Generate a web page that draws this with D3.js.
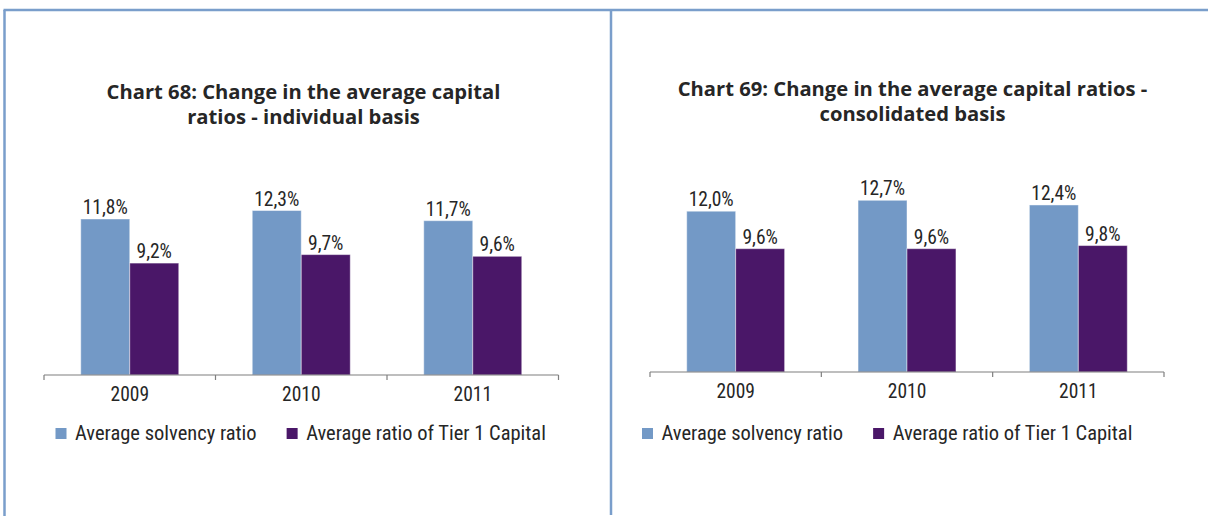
<!DOCTYPE html>
<html><head><meta charset="utf-8">
<script src="https://cdn.jsdelivr.net/npm/d3@7"></script>
<style>
  body { margin: 0; background: #fff; }
  svg { display: block; }
</style></head>
<body><svg id="panel" width="1208" height="516"></svg>
<script>
// Categories and series
const years = ["2009", "2010", "2011"];
const seriesNames = ["Average solvency ratio", "Average ratio of Tier 1 Capital"];

// Chart 68 – individual basis (%)
const individualSolvency = [11.8, 12.3, 11.7];
const individualTier1 = [9.2, 9.7, 9.6];

// Chart 69 – consolidated basis (%)
const consolidatedSolvency = [12.0, 12.7, 12.4];
const consolidatedTier1 = [9.6, 9.6, 9.8];

const titleIndividual = ["Chart 68: Change in the average capital", "ratios - individual basis"];
const titleConsolidated = ["Chart 69: Change in the average capital ratios -", "consolidated basis"];

const colors = ["#7399c6", "#4a1768"];
const frameColor = "#7a9ecb";
const textColor = "#262626";
const labelFont = "'Roboto Condensed', 'DejaVu Sans Condensed', sans-serif";
const titleFont = "'Open Sans', 'Noto Sans', sans-serif";

const locale = d3.formatLocale({ decimal: ",", thousands: ".", grouping: [3], currency: ["", "€"] });
const fmt = v => locale.format(".1f")(v) + "%";

const svg = d3.select("#panel");

// Page frame: top rule plus the left and middle column rules
const frame = svg.append("g").attr("stroke", frameColor).attr("stroke-width", 2.5).attr("fill", "none");
frame.append("line").attr("x1", 3.5).attr("x2", 1208).attr("y1", 10).attr("y2", 10);
frame.append("line").attr("x1", 4.5).attr("x2", 4.5).attr("y1", 10).attr("y2", 516);
frame.append("line").attr("x1", 611).attr("x2", 611).attr("y1", 10).attr("y2", 515);

function drawChart(cfg) {
  const g = svg.append("g");
  const rows = years.map((y, i) => ({ year: y, values: [cfg.series[0][i], cfg.series[1][i]] }));

  const x0 = d3.scaleBand().domain(years).range([cfg.left, cfg.right]).paddingInner(0).paddingOuter(0);
  const x1 = d3.scaleBand().domain([0, 1]).range([0, x0.bandwidth()]).paddingInner(0).paddingOuter(0.75);
  const y = d3.scaleLinear().domain(cfg.yDomain).range([cfg.baseline, cfg.top]);

  // Title, two centred lines
  const title = g.append("text")
    .attr("x", cfg.titleX).attr("y", cfg.titleY)
    .attr("text-anchor", "middle")
    .attr("font-family", titleFont).attr("font-weight", "bold").attr("font-size", 20.2)
    .attr("fill", textColor);
  cfg.title.forEach((line, i) => {
    title.append("tspan").attr("x", cfg.titleX).attr("dy", i === 0 ? 0 : cfg.titleLead).text(line);
  });

  // Bars
  const groups = g.selectAll("g.year").data(rows).join("g")
    .attr("class", "year")
    .attr("transform", d => `translate(${x0(d.year)},0)`);

  groups.selectAll("rect").data(d => d.values.map((v, k) => ({ v, k }))).join("rect")
    .attr("x", d => x1(d.k))
    .attr("width", x1.bandwidth())
    .attr("y", d => y(d.v))
    .attr("height", d => cfg.baseline - y(d.v))
    .attr("fill", d => colors[d.k])
    .attr("stroke", "rgba(255,255,255,0.45)")
    .attr("stroke-width", 1);

  // Value labels
  groups.selectAll("text.val").data(d => d.values.map((v, k) => ({ v, k }))).join("text")
    .attr("class", "val")
    .attr("x", d => x1(d.k) + x1.bandwidth() / 2)
    .attr("y", d => y(d.v) - 5)
    .attr("text-anchor", "middle")
    .attr("font-family", labelFont).attr("font-size", 19.5)
    .attr("fill", textColor)
    .text(d => fmt(d.v));

  // Category axis
  const axis = g.append("g")
    .attr("transform", `translate(0,${cfg.baseline})`)
    .call(d3.axisBottom(x0).tickSize(0).tickPadding(12));
  axis.select(".domain").attr("stroke", "#7f7f7f").attr("stroke-width", 1.2).attr("d", `M${cfg.left},0H${cfg.right}`);
  axis.selectAll(".tick text")
    .attr("font-family", labelFont).attr("font-size", 19.5).attr("fill", textColor);
  // boundary ticks between categories
  const bounds = years.map(yv => x0(yv)).concat([cfg.right]);
  axis.selectAll("line.bound").data(bounds).join("line")
    .attr("class", "bound")
    .attr("x1", d => d).attr("x2", d => d)
    .attr("y1", 0).attr("y2", 5)
    .attr("stroke", "#7f7f7f").attr("stroke-width", 1.2);

  // Legend
  const legend = g.append("g").attr("transform", `translate(${cfg.legendX},${cfg.legendY})`);
  let cursor = 0;
  seriesNames.forEach((name, k) => {
    legend.append("rect")
      .attr("x", cursor).attr("y", -12)
      .attr("width", 11).attr("height", 11)
      .attr("fill", colors[k]);
    const t = legend.append("text")
      .attr("x", cursor + 19.5).attr("y", 0)
      .attr("font-family", labelFont).attr("font-size", 20.5)
      .attr("fill", textColor)
      .text(name);
    cursor += 19.5 + t.node().getComputedTextLength() + 30;
  });
}

drawChart({
  series: [individualSolvency, individualTier1],
  title: titleIndividual,
  titleX: 303.5, titleY: 99, titleLead: 24.5,
  left: 44, right: 558.5, baseline: 375, top: 180,
  yDomain: [2.6, 14.1],
  legendX: 55.5, legendY: 440
});

drawChart({
  series: [consolidatedSolvency, consolidatedTier1],
  title: titleConsolidated,
  titleX: 912.5, titleY: 96, titleLead: 25,
  left: 650, right: 1164, baseline: 372, top: 180,
  yDomain: [1.7, 14.0],
  legendX: 642, legendY: 440
});
</script></body></html>
